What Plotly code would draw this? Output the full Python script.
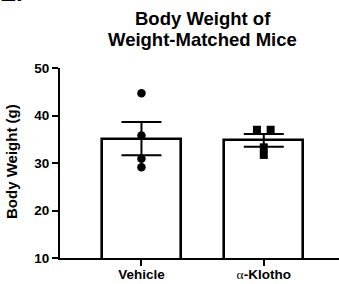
import numpy as np
import plotly.graph_objects as go

categories = ["Vehicle", "α-Klotho"]
tick_labels = ["Vehicle", '<span style="font-family:Liberation Serif;font-weight:normal">α</span>-Klotho']
vehicle_points = [44.7, 35.8, 30.9, 29.1]
klotho_points = [37.0, 37.0, 33.3, 31.7]
y_ticks = [10, 20, 30, 40, 50]
title_lines = ["Body Weight of", "Weight-Matched Mice"]

groups = [vehicle_points, klotho_points]
means = [float(np.mean(g)) for g in groups]
sems = [float(np.std(g, ddof=1) / np.sqrt(len(g))) for g in groups]

FONT = "Liberation Sans"
W, H = 339, 284
ml, mr, mt, mb = 60, 0, 68, 26

fig = go.Figure()
xpos = list(range(len(categories)))
fig.add_trace(go.Bar(
    x=xpos, y=means, width=0.646,
    marker=dict(color="white", line=dict(color="black", width=2.6)),
    error_y=dict(type="data", array=sems, visible=True, color="black", thickness=2, width=20),
    showlegend=False,
))

# points (horizontal scatter offsets in axis units)
veh_off = [0, 0, 0, 0]
klo_off = [-0.056, 0.056, 0, 0]
fig.add_trace(go.Scatter(
    x=[0 + o for o in veh_off], y=vehicle_points, mode="markers",
    marker=dict(symbol="circle", size=8.5, color="black"), showlegend=False,
))
fig.add_trace(go.Scatter(
    x=[1 + o for o in klo_off], y=klotho_points, mode="markers",
    marker=dict(symbol="square", size=8, color="black"), showlegend=False,
))

fig.update_layout(
    width=W, height=H,
    margin=dict(l=ml, r=mr, t=mt, b=mb, pad=0),
    paper_bgcolor="white", plot_bgcolor="white",
    font=dict(family=FONT, color="black"),
    bargap=0,
)
fig.update_xaxes(
    range=[-0.666, 1.615], tickmode="array", tickvals=xpos, ticktext=tick_labels,
    showline=True, linecolor="black", linewidth=2, ticks="outside", ticklen=6, tickwidth=2,
    tickcolor="black", showgrid=False, zeroline=False, ticklabelstandoff=-3,
    tickfont=dict(family=FONT, size=13.5, color="black", weight="bold"),
)
fig.update_yaxes(
    range=[10, 50], tickmode="array", tickvals=y_ticks,
    showline=True, linecolor="black", linewidth=2, ticks="outside", ticklen=6, tickwidth=2,
    tickcolor="black", showgrid=False, zeroline=False,
    tickfont=dict(family=FONT, size=13.5, color="black", weight="bold"),
)

# title (two lines, centred between the categories)
for line, ycen in zip(title_lines, [18, 39]):
    fig.add_annotation(
        text="<b>%s</b>" % line, xref="x", yref="paper",
        x=0.5, y=1, yshift=mt - ycen, xanchor="center", yanchor="middle", showarrow=False,
        font=dict(family=FONT, size=18.5, color="black"),
    )
# y title
fig.add_annotation(
    text="<b>Body Weight (g)</b>", xref="paper", yref="paper",
    x=0, y=0.5, xshift=-ml + 11, yshift=1, xanchor="center", yanchor="middle", textangle=-90,
    showarrow=False, font=dict(family=FONT, size=15, color="black"),
)
# panel label (cut off at top)
fig.add_annotation(
    text="<b>E.</b>", xref="paper", yref="paper",
    x=0, y=1, xshift=-ml - 2, yshift=mt - 8, xanchor="left", yanchor="bottom",
    showarrow=False, font=dict(family=FONT, size=24, color="black"),
)

fig.write_html("out.html", config={"displayModeBar": False},
               post_script="document.body.style.margin='0';")
